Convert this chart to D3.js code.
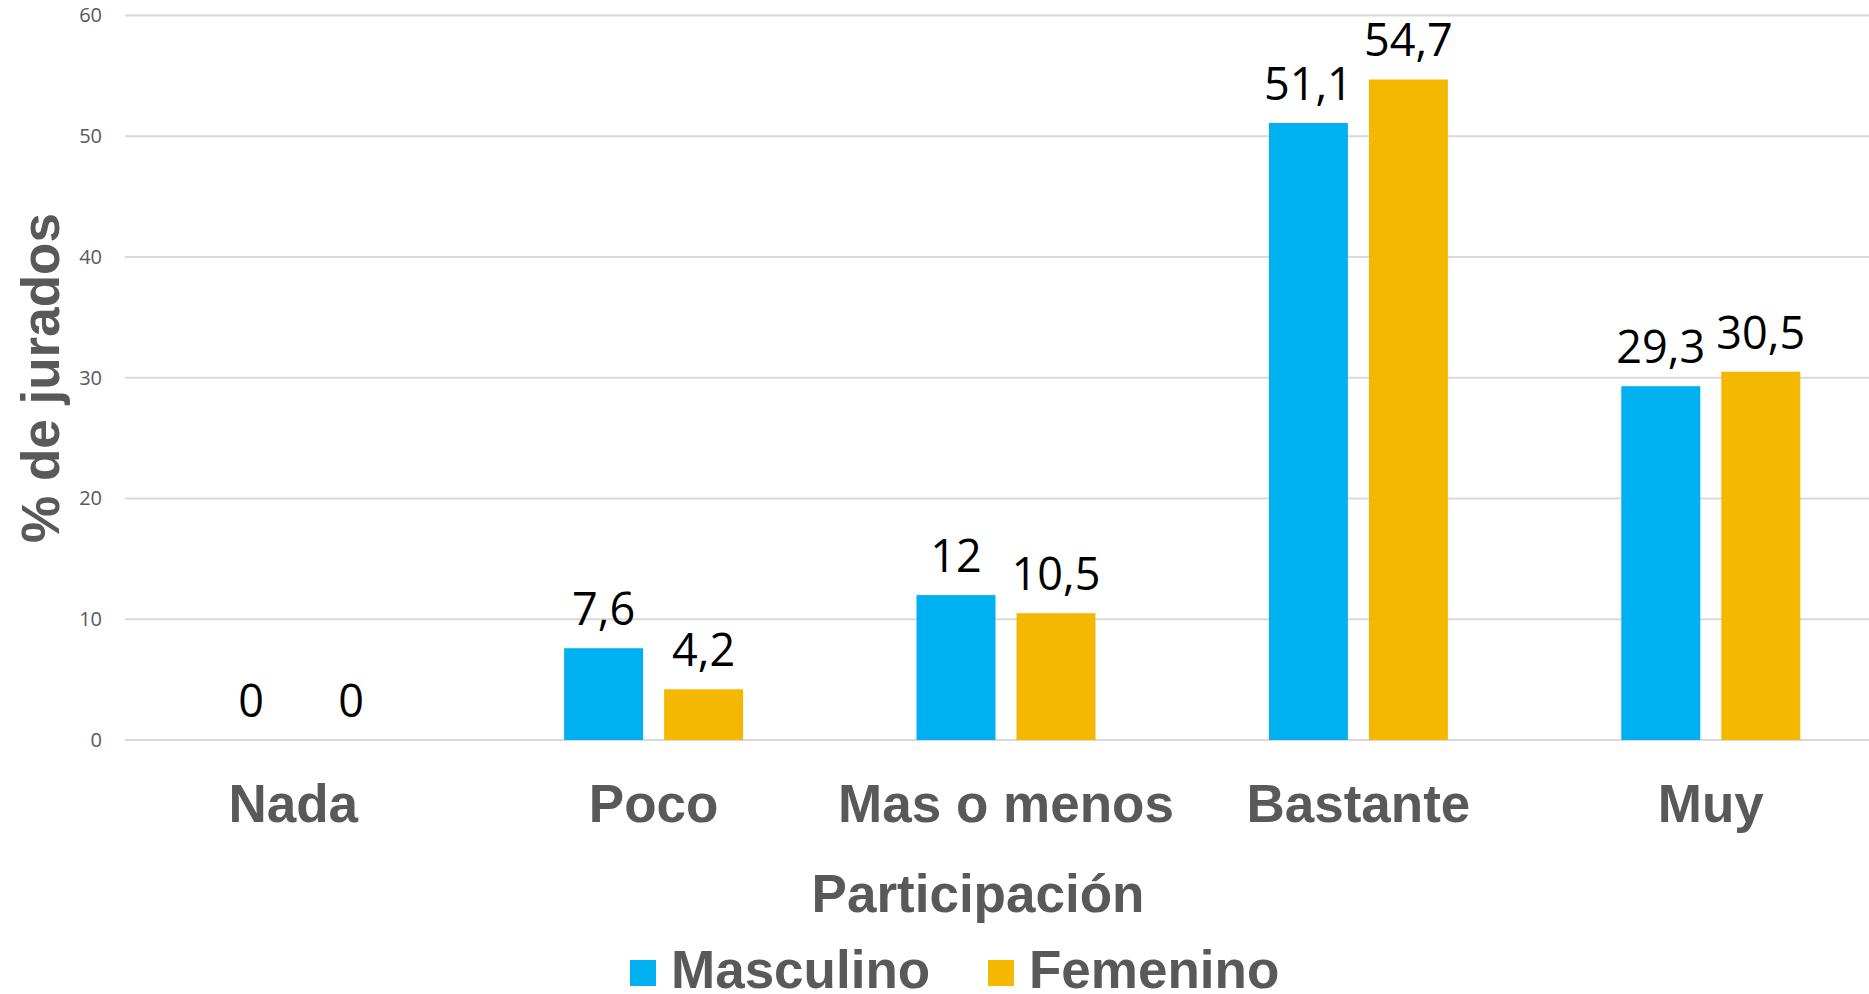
<!DOCTYPE html>
<html>
<head>
<meta charset="utf-8">
<script src="https://cdn.jsdelivr.net/npm/d3@7"></script>
<style>
  body { margin: 0; background: #fff; }
</style>
</head>
<body>
<svg id="chart"></svg>
<script>
// Data
const categories = ["Nada", "Poco", "Mas o menos", "Bastante", "Muy"];
const series = ["Masculino", "Femenino"];
const masculino = [0, 7.6, 12, 51.1, 29.3];
const femenino = [0, 4.2, 10.5, 54.7, 30.5];
const yTicks = [0, 10, 20, 30, 40, 50, 60];
const colors = ["#00B0F0", "#F5B800"];

const width = 1869;
const height = 994;

const svg = d3.select("#chart")
    .attr("width", width)
    .attr("height", height)
    .style("font-family", "'Liberation Sans', Arial, sans-serif");

// Scales
const xScale = d3.scaleBand()
    .domain(categories)
    .range([125, 1887])
    .padding(0);

const xSub = d3.scaleBand()
    .domain(series)
    .range([xScale.bandwidth() / 2 - 89.5, xScale.bandwidth() / 2 + 89.5])
    .paddingInner(0.21)
    .paddingOuter(0);

const yScale = d3.scaleLinear()
    .domain([0, 60])
    .range([740, 15.5]);

// Gridlines
svg.append("g")
    .selectAll("line")
    .data(yTicks)
    .enter()
    .append("line")
    .attr("x1", 125)
    .attr("x2", width)
    .attr("y1", d => yScale(d))
    .attr("y2", d => yScale(d))
    .attr("stroke", "#D9D9D9")
    .attr("stroke-width", 2);

// Y axis tick labels
const yAxis = svg.append("g")
    .attr("transform", "translate(102,0)")
    .call(d3.axisLeft(yScale).tickValues(yTicks).tickSize(0).tickPadding(0));
yAxis.select(".domain").remove();
yAxis.selectAll("text")
    .style("font-family", "'Open Sans', sans-serif")
    .style("font-size", "20px")
    .attr("fill", "#595959");

// Rows for bars
const rows = categories.map((c, i) => ({ cat: c, values: [masculino[i], femenino[i]] }));

const groups = svg.selectAll(".group")
    .data(rows)
    .enter()
    .append("g")
    .attr("class", "group")
    .attr("transform", d => `translate(${xScale(d.cat)},0)`);

groups.selectAll("rect")
    .data(d => d.values.map((v, j) => ({ s: series[j], v, j })))
    .enter()
    .append("rect")
    .attr("x", d => xSub(d.s))
    .attr("y", d => yScale(d.v))
    .attr("width", xSub.bandwidth())
    .attr("height", d => yScale(0) - yScale(d.v))
    .attr("fill", d => colors[d.j]);

// Value labels
groups.selectAll(".value")
    .data(d => d.values.map((v, j) => ({ s: series[j], v, j })))
    .enter()
    .append("text")
    .attr("class", "value")
    .attr("x", d => xSub(d.s) + xSub.bandwidth() / 2)
    .attr("y", d => yScale(d.v) - 23)
    .attr("text-anchor", "middle")
    .style("font-family", "'Open Sans', sans-serif")
    .style("font-size", "45px")
    .attr("fill", "#000")
    .text(d => String(d.v).replace(".", ","));

// Category labels
svg.selectAll(".cat")
    .data(categories)
    .enter()
    .append("text")
    .attr("class", "cat")
    .attr("x", d => xScale(d) + xScale.bandwidth() / 2 - (d === "Nada" ? 8 : 0))
    .attr("y", 822)
    .attr("text-anchor", "middle")
    .style("font-size", "53px")
    .style("font-weight", "bold")
    .attr("fill", "#595959")
    .text(d => d);

// X axis title
svg.append("text")
    .attr("x", 978)
    .attr("y", 912)
    .attr("text-anchor", "middle")
    .style("font-size", "53px")
    .style("font-weight", "bold")
    .attr("fill", "#595959")
    .text("Participación");

// Y axis title
svg.append("text")
    .attr("transform", "translate(59,378) rotate(-90)")
    .attr("text-anchor", "middle")
    .style("font-size", "53px")
    .style("font-weight", "bold")
    .attr("fill", "#595959")
    .text("% de jurados");

// Legend
const legendX = [630, 988];
const legend = svg.selectAll(".legend")
    .data(series)
    .enter()
    .append("g")
    .attr("class", "legend")
    .attr("transform", (d, i) => `translate(${legendX[i]},960)`);

legend.append("rect")
    .attr("width", 26)
    .attr("height", 26)
    .attr("fill", (d, i) => colors[i]);

legend.append("text")
    .attr("x", 41)
    .attr("y", 28)
    .style("font-size", "53px")
    .style("font-weight", "bold")
    .attr("fill", "#595959")
    .text(d => d);
</script>
</body>
</html>
